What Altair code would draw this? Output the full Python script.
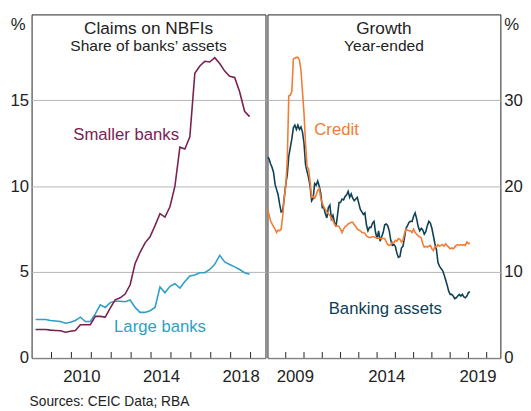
import altair as alt
import pandas as pd

FONT = "Liberation Sans"
INK = "#222222"
C_SMALL = "#7b2150"
C_LARGE = "#2fa0c5"
C_CREDIT = "#f47b30"
C_BANK = "#0d4054"

# ---------------- data ----------------
# Left panel: quarterly, claims on NBFIs (% of banks' assets)
smaller_banks = [1.65, 1.65, 1.65, 1.62, 1.6, 1.58, 1.5, 1.55, 1.6, 1.93,
                 1.93, 1.93, 2.42, 2.42, 2.38, 2.9, 3.38, 3.5, 3.72, 4.26,
                 5.5, 6.15, 6.7, 7.05, 7.7, 8.4, 8.2, 8.8, 10.0, 12.27,
                 12.16, 12.88, 16.57, 17.0, 17.27, 17.23, 17.48, 17.14, 16.7, 16.4,
                 16.33, 15.5, 14.36, 14.05]
large_banks = [2.24, 2.24, 2.24, 2.18, 2.15, 2.12, 2.02, 2.08, 2.18, 2.37,
               2.12, 2.12, 2.56, 3.09, 2.94, 3.22, 3.3, 3.3, 3.27, 3.37,
               2.94, 2.65, 2.65, 2.75, 2.94, 4.13, 3.79, 4.17, 4.32, 4.07,
               4.45, 4.77, 4.83, 4.96, 4.96, 5.15, 5.45, 5.97, 5.59, 5.44,
               5.3, 5.15, 4.96, 4.87]
quarter_years = [2008.2 + 0.25 * k for k in range(len(smaller_banks))]

# Right panel: monthly, year-ended growth (%)
banking_assets = [23.4, 23.2, 22.6, 22.2, 21.6, 20.2, 19.6, 19.0, 17.9, 17.0,
                  17.1, 18.6, 20.2, 21.3, 23.5, 24.5, 25.5, 26.8, 27.1, 26.6,
                  27.1, 26.6, 26.9, 26.3, 25.0, 22.5, 21.7, 21.0, 20.0, 18.3,
                  18.6, 20.3, 20.1, 20.6, 20.0, 19.2, 17.5, 17.5, 16.8, 16.3,
                  17.5, 17.8, 16.2, 16.6, 15.8, 15.3, 16.6, 18.1, 18.1, 18.5,
                  18.4, 18.8, 19.0, 19.4, 18.7, 19.1, 18.6, 18.3, 18.5, 18.7,
                  18.0, 17.3, 17.0, 16.7, 16.9, 15.5, 14.8, 15.2, 15.2, 15.7,
                  15.9, 14.6, 13.9, 14.8, 13.6, 14.1, 14.6, 15.5, 15.6, 15.4,
                  14.8, 13.7, 13.1, 13.2, 13.0, 12.2, 11.7, 11.8, 12.8, 13.0,
                  14.0, 15.1, 15.4, 15.8, 15.9, 15.9, 16.5, 16.9, 16.2, 15.3,
                  14.8, 15.1, 14.9, 14.4, 14.7, 15.4, 15.9, 15.7, 15.1, 14.2,
                  13.3, 12.6, 11.1, 10.7, 10.4, 10.2, 9.7, 9.1, 8.5, 7.8,
                  7.4, 7.4, 7.2, 6.9, 7.0, 7.2, 7.4, 7.2, 7.4, 7.1,
                  7.0, 7.2, 7.6, 7.7]
credit = [17.3, 16.7, 16.0, 15.6, 15.3, 15.0, 14.6, 14.9, 14.8, 15.0,
          16.5, 18.6, 20.0, 23.0, 30.5, 30.6, 31.0, 34.8, 34.9, 35.0,
          35.0, 34.7, 33.5, 31.0, 28.5, 25.0, 22.3, 22.0, 20.5, 18.7,
          18.8, 18.6, 19.0, 19.5, 19.7, 18.6, 18.0, 17.6, 17.3, 17.0,
          16.8, 16.6, 16.3, 16.0, 15.6, 15.4, 15.4, 15.3, 15.0, 14.6,
          15.0, 15.3, 15.4, 15.6, 15.7, 15.8, 15.8, 15.5, 15.3, 15.0,
          14.9, 14.8, 14.6, 14.6, 14.5, 14.2, 14.1, 14.0, 14.05, 14.1,
          14.1, 14.0, 14.0, 13.95, 13.9, 13.9, 13.9, 13.9, 13.5, 13.2,
          13.1, 13.2, 13.5, 13.4, 13.7, 13.6, 13.9, 13.8, 13.5, 13.7,
          14.5, 15.0, 14.9, 14.8, 14.8, 14.6, 15.0, 14.6, 14.4, 14.2,
          14.1, 14.0, 13.3, 12.9, 13.0, 12.9, 13.0, 13.1, 12.7, 12.5,
          13.0, 12.9, 13.2, 13.0, 13.1, 13.2, 13.0, 13.3, 13.1, 12.9,
          12.7, 12.8, 12.7, 12.9, 13.1, 13.2, 13.1, 13.2, 13.1, 13.2,
          13.1, 13.5, 13.3, 13.4]
month_years = [2008 + m / 12 for m in range(len(credit))]

left_ticks = list(range(2009, 2020))
right_ticks = list(range(2009, 2021))
left_label_years = [2010.5, 2014.5, 2018.5]
right_label_years = [2009.5, 2014.5, 2019.5]
left_y_ticks = [0, 5, 10, 15]
right_y_ticks = [0, 10, 20, 30]

# series label positions (data coordinates)
left_labels = pd.DataFrame({"year": [2012.75, 2014.45], "value": [12.7, 1.52],
                            "text": ["Smaller banks", "Large banks"],
                            "col": [C_SMALL, C_LARGE]})
right_labels = pd.DataFrame({"year": [2011.78, 2014.45], "value": [26.0, 5.1],
                             "text": ["Credit", "Banking assets"],
                             "col": [C_CREDIT, C_BANK]})

WL, WR, H = 238, 237, 349.5
FS = 17


def x_enc(domain, label_vals):
    return alt.X("year:Q",
                 scale=alt.Scale(domain=domain, nice=False, zero=False),
                 axis=alt.Axis(values=label_vals, labelExpr="floor(datum.value)",
                               ticks=False, tickSize=0, grid=False, domain=False,
                               title=None, labelPadding=11, labelFlush=False,
                               labelFont=FONT, labelFontSize=FS, labelColor=INK))


def y_enc(domain, vals, orient):
    return alt.Y("value:Q",
                 scale=alt.Scale(domain=domain, nice=False, zero=True),
                 axis=alt.Axis(values=vals, ticks=False, tickSize=0, domain=False,
                               title=None, orient=orient, grid=True,
                               gridColor="#b4b4b4", gridWidth=1,
                               labelPadding=3 if orient == "left" else 3.5,
                               labelFont=FONT, labelFontSize=FS, labelColor=INK))


def panel(width, xdomain, xlabels, ydomain, yvals, orient, series, labels,
          ticks, title, subtitle, pct_x, pct_align, extra=None):
    X = x_enc(xdomain, xlabels)
    Y = y_enc(ydomain, yvals, orient)
    layers = []
    for yrs, vals, col in series:
        df = pd.DataFrame({"year": yrs, "value": vals})
        layers.append(alt.Chart(df).mark_line(color=col, strokeWidth=1.6,
                                              clip=True).encode(x=X, y=Y))
    tdf = pd.DataFrame({"year": ticks})
    layers.append(alt.Chart(tdf).mark_rule(color=INK, strokeWidth=1).encode(
        x=X, y=alt.value(H - 6), y2=alt.value(H)))
    layers.append(alt.Chart(labels).mark_text(font=FONT, fontSize=FS,
                                              baseline="alphabetic").encode(
        x=X, y=Y, text="text:N", color=alt.Color("col:N", scale=None)))
    one = pd.DataFrame({"a": [0]})
    layers.append(alt.Chart(one).mark_text(font=FONT, fontSize=17.5, color=INK,
                                           baseline="alphabetic").encode(
        x=alt.value(width / 2), y=alt.value(20.3), text=alt.value(title)))
    layers.append(alt.Chart(one).mark_text(font=FONT, fontSize=15.8, color=INK,
                                           baseline="alphabetic").encode(
        x=alt.value(width / 2), y=alt.value(37.5), text=alt.value(subtitle)))
    layers.append(alt.Chart(one).mark_text(font=FONT, fontSize=FS, color=INK,
                                           baseline="alphabetic", align=pct_align).encode(
        x=alt.value(pct_x), y=alt.value(15.5), text=alt.value("%")))
    if extra is not None:
        layers.append(extra)
    return alt.layer(*layers).properties(width=width, height=H)


source = alt.Chart(pd.DataFrame({"a": [0]})).mark_text(
    font=FONT, fontSize=14, color=INK, baseline="alphabetic", align="left").encode(
    x=alt.value(-2), y=alt.value(398), text=alt.value("Sources: CEIC Data; RBA"))

left = panel(WL, [2008, 2019.75], left_label_years, [0, 20], left_y_ticks, "left",
             [(quarter_years, large_banks, C_LARGE),
              (quarter_years, smaller_banks, C_SMALL)],
             left_labels, left_ticks, "Claims on NBFIs", "Share of banks\u2019 assets",
             -6, "right", extra=source)

right = panel(WR, [2008, 2020.75], right_label_years, [0, 40], right_y_ticks, "right",
              [(month_years, banking_assets, C_BANK),
               (month_years, credit, C_CREDIT)],
              right_labels, right_ticks, "Growth", "Year-ended",
              WR + 4, "left")

chart = alt.hconcat(left, right, spacing=0).properties(
    padding={"left": 1, "top": 2, "right": 0, "bottom": 0},
    background="white",
).configure_view(stroke=INK, strokeWidth=1).resolve_scale(x="independent", y="independent")

chart.save("out.html", embed_options={"renderer": "svg", "actions": False})
